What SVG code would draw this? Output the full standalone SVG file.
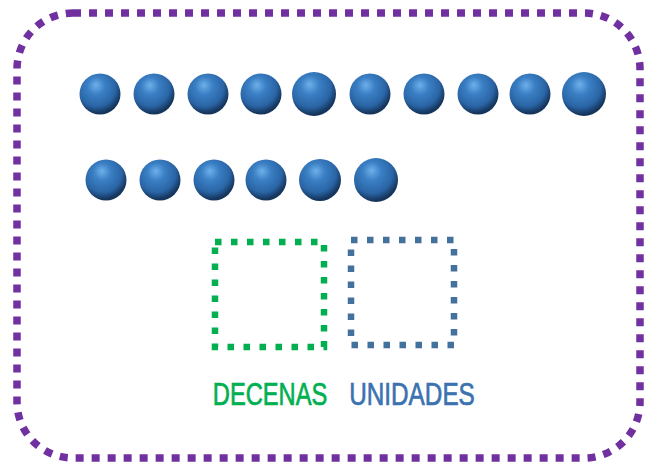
<svg xmlns="http://www.w3.org/2000/svg" width="655" height="466" viewBox="0 0 655 466">
<defs>
<radialGradient id="ball" cx="0.42" cy="0.35" r="0.62" fx="0.4" fy="0.28">
<stop offset="0" stop-color="#6fb0ea"/>
<stop offset="0.35" stop-color="#3a7fc4"/>
<stop offset="0.75" stop-color="#2a65a6"/>
<stop offset="1" stop-color="#15355c"/>
</radialGradient>
<style>
.ball{fill:url(#ball)}
.frame{fill:none;stroke:#7030a0;stroke-width:7.5;stroke-dasharray:8 8}
.box{fill:none;stroke-width:6.5;stroke-dasharray:6.5 9.5}
.lbl{font-family:"Liberation Sans",Arial,sans-serif;font-size:32px;stroke-width:0.7}
</style>
</defs>
<rect class="frame" x="17" y="13" width="623" height="445" rx="56" ry="56"/>
<g id="row1">
<circle class="ball" cx="100" cy="94" r="20.5"/>
<circle class="ball" cx="154" cy="94" r="20.5"/>
<circle class="ball" cx="208" cy="94" r="20.5"/>
<circle class="ball" cx="261" cy="94" r="20.5"/>
<circle class="ball" cx="314" cy="94" r="22"/>
<circle class="ball" cx="370" cy="94" r="20.5"/>
<circle class="ball" cx="424" cy="94" r="20.5"/>
<circle class="ball" cx="478" cy="94" r="20.5"/>
<circle class="ball" cx="530" cy="94" r="20.5"/>
<circle class="ball" cx="584" cy="94" r="22"/>
</g>
<g id="row2">
<circle class="ball" cx="106" cy="180" r="20.5"/>
<circle class="ball" cx="160" cy="180" r="20.5"/>
<circle class="ball" cx="214" cy="180" r="20.5"/>
<circle class="ball" cx="266" cy="180" r="20.5"/>
<circle class="ball" cx="320" cy="180" r="21"/>
<circle class="ball" cx="376" cy="180" r="22"/>
</g>
<g id="decenas">
<rect class="box" x="215" y="242" width="109" height="105" stroke="#00b050"/>
<text class="lbl" transform="translate(270,405) scale(0.74,1)" x="0" y="0" text-anchor="middle" fill="#00b050" stroke="#00b050">DECENAS</text>
</g>
<g id="unidades">
<rect class="box" x="351" y="240" width="103" height="105" stroke="#44709e"/>
<text class="lbl" transform="translate(412,405) scale(0.76,1)" x="0" y="0" text-anchor="middle" fill="#3b72b0" stroke="#3b72b0">UNIDADES</text>
</g>
<g id="connectors"/>
</svg>
